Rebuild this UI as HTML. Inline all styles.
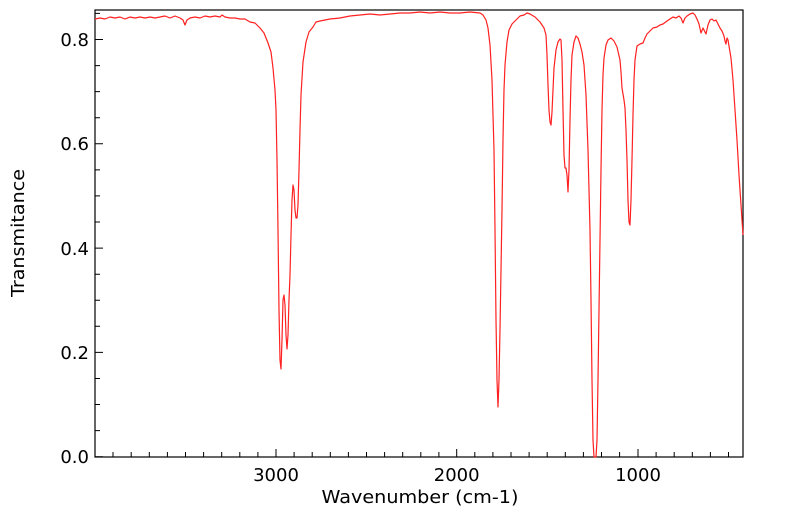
<!DOCTYPE html>
<html><head><meta charset="utf-8"><style>
html,body{margin:0;padding:0;background:#fff;width:799px;height:516px;overflow:hidden}
svg{display:block}
text{font-family:"DejaVu Sans","Liberation Sans",sans-serif;font-size:18px;fill:#000}
</style></head><body>
<svg width="799" height="516" viewBox="0 0 799 516">
<rect x="95" y="10" width="648" height="447" fill="none" stroke="#000" stroke-width="1.2"/>
<g stroke="#000" stroke-width="1">
<path d="M95 456.7h8M95 352.4h8M95 248.1h8M95 143.8h8M95 39.5h8
M95 430.6h5M95 404.5h5M95 378.5h5M95 326.3h5M95 300.2h5M95 274.2h5M95 222h5M95 195.9h5M95 169.9h5M95 117.7h5M95 91.6h5M95 65.6h5M95 13.4h5"/>
<path d="M276 457v-8M456.7 457v-8M638 457v-8
M113 457v-5M131.2 457v-5M149.3 457v-5M167.4 457v-5M185.5 457v-5M203.6 457v-5M221.7 457v-5M239.8 457v-5M257.9 457v-5
M294.1 457v-5M312.2 457v-5M330.3 457v-5M348.4 457v-5M366.5 457v-5M384.6 457v-5M402.7 457v-5M420.8 457v-5M438.9 457v-5
M474.8 457v-5M492.9 457v-5M511 457v-5M529.1 457v-5M547.2 457v-5M565.3 457v-5M583.4 457v-5M601.5 457v-5M619.6 457v-5
M656.1 457v-5M674.2 457v-5M692.3 457v-5M710.4 457v-5M728.5 457v-5"/>
</g>
<g text-anchor="end">
<text x="89" y="463">0.0</text>
<text x="89" y="359">0.2</text>
<text x="89" y="255">0.4</text>
<text x="89" y="150">0.6</text>
<text x="89" y="46">0.8</text>
</g>
<g text-anchor="middle">
<text x="276" y="481">3000</text>
<text x="456.7" y="481">2000</text>
<text x="638" y="481">1000</text>
<text x="420" y="503" textLength="197" lengthAdjust="spacingAndGlyphs">Wavenumber (cm-1)</text>
<text transform="translate(24 233) rotate(-90)" textLength="128" lengthAdjust="spacingAndGlyphs">Transmitance</text>
</g>
<polyline fill="none" stroke="#ff2020" stroke-width="1.2" stroke-linejoin="round" points="
95,19 100,18 105,19 110,17 115,18 120,17 125,19 130,17 135,18 140,17 145,18 150,17 155,18 160,17 165,16 170,18 175,16 180,18 183,20 185,25 187,20 190,18 195,17 200,18 205,16 210,17 215,16 220,17 222,15 225,17 230,18 235,18 240,19 245,19 250,22 255,23 260,28 264,33 268,43 271,52 273,68 275,90 276,110 277,160 278,230 279,310 280,360 281,369 282,340 283,300 284,295 285,305 286,335 287,349 288,335 289,300 290,275 291,235 292,200 293,185 294,190 295,210 296,218 297,218 298,205 299,170 300,130 301,95 303,62 306,42 309,32 313,27 316,22 320,21 325,20 330,19 340,18 350,16 360,15 370,14 380,15 390,14 400,13 410,13 420,12 430,13 440,12 450,13 460,13 470,12 480,13 483,15 486,20 488,28 490,45 492,80 494,150 495,230 496,320 497,380 498,407 499,380 500,330 501,270 502,210 503,140 504,90 505,65 507,42 509,30 512,24 516,20 520,16 524,15 527,13 530,14 535,17 540,22 544,28 546,35 547,55 548,85 549,110 550,122 551,125 552,112 553,90 554,68 556,50 558,42 560,39 561,40 562,60 563,110 564,155 565,168 566,168 567,175 568,192 569,170 570,120 571,80 572,55 574,42 576,36 578,38 580,44 582,52 584,65 586,95 588,150 590,230 591,300 592,380 593,440 594,457 596,457 597,440 598,380 599,310 600,240 601,170 602,110 603,75 604,58 606,45 608,40 611,38 614,41 617,47 620,60 621,72 622,88 624,100 625,108 626,130 627,160 628,200 629,222 630,225 631,200 632,160 633,115 634,80 635,60 637,46 640,44 643,43 645,38 647,34 650,31 653,28 657,27 660,25 663,24 667,21 670,19 673,17 676,18 679,16 681,18 683,23 685,18 687,16 690,14 693,13 695,15 697,19 699,24 701,33 703,28 704,30 706,34 708,25 710,20 712,19 714,21 716,20 718,24 720,28 722,31 724,36 725,41 726,44 727,38 728,40 729,46 731,58 733,80 735,110 737,140 739,175 741,205 743,235"/>
</svg>
</body></html>
